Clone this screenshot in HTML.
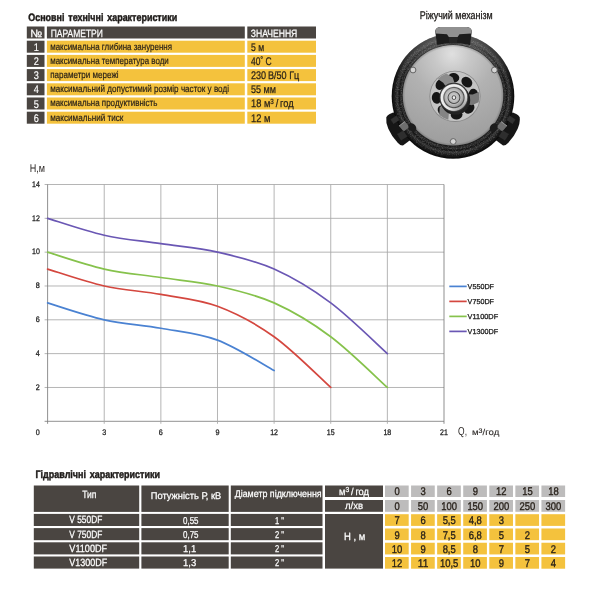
<!DOCTYPE html>
<html lang="uk"><head><meta charset="utf-8"><title>Характеристики</title>
<style>html,body{margin:0;padding:0;background:#fff}svg{display:block}text{font-family:"Liberation Sans",sans-serif;stroke-linejoin:round;text-rendering:geometricPrecision}</style>
</head><body>
<svg width="600" height="600" viewBox="0 0 600 600">
<rect width="600" height="600" fill="#fff"/>
<g id="photo">
<defs>
<radialGradient id="gBody" cx="0.5" cy="0.495" r="0.5">
<stop offset="0" stop-color="#111"/><stop offset="0.80" stop-color="#1a1a1a"/><stop offset="0.85" stop-color="#2e2e2e"/><stop offset="0.875" stop-color="#121212"/><stop offset="0.91" stop-color="#363636"/><stop offset="0.95" stop-color="#1c1c1c"/><stop offset="1" stop-color="#0b0b0b"/>
</radialGradient>
<linearGradient id="gBodyTop" x1="0" y1="33" x2="0" y2="78" gradientUnits="userSpaceOnUse">
<stop offset="0" stop-color="#999" stop-opacity="0.55"/><stop offset="0.45" stop-color="#888" stop-opacity="0.3"/><stop offset="1" stop-color="#888" stop-opacity="0"/>
</linearGradient>
<radialGradient id="gPlate" cx="452" cy="54" r="100" gradientUnits="userSpaceOnUse">
<stop offset="0" stop-color="#e0e0e0"/><stop offset="0.18" stop-color="#c8c8c8"/><stop offset="0.42" stop-color="#b2b2b2"/><stop offset="0.8" stop-color="#a2a2a2"/><stop offset="1" stop-color="#9a9a9a"/>
</radialGradient>
<radialGradient id="gPlateEdge" cx="453" cy="95.3" r="50.3" gradientUnits="userSpaceOnUse">
<stop offset="0" stop-color="#000" stop-opacity="0"/><stop offset="0.95" stop-color="#000" stop-opacity="0"/><stop offset="1" stop-color="#000" stop-opacity="0.2"/>
</radialGradient>
<radialGradient id="gHub" cx="454" cy="96.7" r="13" gradientUnits="userSpaceOnUse">
<stop offset="0" stop-color="#f6f6f6"/><stop offset="0.07" stop-color="#f6f6f6"/><stop offset="0.12" stop-color="#444"/><stop offset="0.2" stop-color="#c4c4c4"/><stop offset="0.36" stop-color="#b4b4b4"/><stop offset="0.43" stop-color="#3a3a3a"/><stop offset="0.5" stop-color="#bdbdbd"/><stop offset="0.66" stop-color="#a4a4a4"/><stop offset="0.74" stop-color="#3c3c3c"/><stop offset="0.82" stop-color="#e2e2e2"/><stop offset="0.94" stop-color="#efefef"/><stop offset="1" stop-color="#707070"/>
</radialGradient>
<linearGradient id="gHubSh" x1="446" y1="88" x2="463" y2="108" gradientUnits="userSpaceOnUse">
<stop offset="0" stop-color="#fff" stop-opacity="0.25"/><stop offset="0.5" stop-color="#fff" stop-opacity="0"/><stop offset="1" stop-color="#000" stop-opacity="0.45"/>
</linearGradient>
<filter id="noise" x="0" y="0" width="100%" height="100%"><feTurbulence type="fractalNoise" baseFrequency="0.85" numOctaves="2" seed="7" result="n"/><feColorMatrix in="n" type="matrix" values="0 0 0 0 1  0 0 0 0 1  0 0 0 0 1  1.6 0 0 0 -0.72"/><feComposite in2="SourceGraphic" operator="in"/></filter>
<filter id="soft" x="-5%" y="-5%" width="110%" height="110%"><feGaussianBlur stdDeviation="0.5"/></filter>
</defs>
<g filter="url(#soft)">
<path d="M402,113 L396.3,112 Q388,113.2 386.3,117.3 Q385.6,123 388.3,128.7 Q392,137 397.7,142.7 Q400.5,146 403.3,145.3 L410,140.3 L416,132 L410,118 Z" fill="#171717"/>
<path d="M504.0 113.0 L509.7 112.0 Q518.0 113.2 519.7 117.3 Q520.4 123.0 517.7 128.7 Q514.0 137.0 508.3 142.7 Q505.5 146.0 502.7 145.3 L496.0 140.3 L490.0 132.0 L496.0 118.0 Z" fill="#171717"/>
<ellipse cx="453" cy="96.2" rx="61.3" ry="62.5" fill="url(#gBody)"/>
<ellipse cx="453" cy="96.2" rx="61.3" ry="62.5" fill="url(#gBodyTop)"/>
<ellipse cx="453" cy="96.2" rx="58.5" ry="59.7" fill="#fff" filter="url(#noise)" opacity="0.3"/>
<path d="M437.2,45 L435.2,31.5 Q435.4,27.6 440,27 L467,27 Q471.6,27.6 471.8,31.5 L470,45 Q453.5,41 437.2,45 Z" fill="#1b1b1b"/>
<path d="M435.6,33.6 L435.4,31.5 Q435.5,27.6 440,27 L467,27 Q471.5,27.6 471.7,31.5 L471.4,33.6 L459.5,34.2 L457.6,37 L448.8,37 L447,34.2 Z" fill="#909090"/>
<path d="M448.6,37 L457.8,37 L457.2,43.6 L449.2,43.6 Z" fill="#262626"/>
<circle cx="453" cy="95.4" r="50.8" fill="#1e1e1e"/>
<circle cx="453" cy="95.3" r="50.3" fill="url(#gPlate)"/>
<circle cx="453" cy="95.3" r="50.3" fill="url(#gPlateEdge)"/>
<circle cx="413" cy="70" r="2.9" fill="#d4d4d4" stroke="#5a5a5a" stroke-width="0.9"/>
<circle cx="494.4" cy="70" r="2.9" fill="#d4d4d4" stroke="#5a5a5a" stroke-width="0.9"/>
<circle cx="453.2" cy="141.5" r="2.9" fill="#d4d4d4" stroke="#5a5a5a" stroke-width="0.9"/>
<path d="M399,126 L405,121.5 L409.6,127 L403.6,131.6 Z" fill="#6e6e6e"/>
<path d="M507.0 126.0 L501.0 121.5 L496.4 127.0 L502.4 131.6 Z" fill="#6e6e6e"/>
<path d="M390.5,119.5 L396.5,115.5 L399.5,120 L393.5,124 Z" fill="#303030"/>
<path d="M515.5 119.5 L509.5 115.5 L506.5 120.0 L512.5 124.0 Z" fill="#303030"/>
<path d="M397,134 L403.5,130.5 L407.5,136.5 L401,140.5 Z" fill="#2e2e2e"/>
<path d="M509.0 134.0 L502.5 130.5 L498.5 136.5 L505.0 140.5 Z" fill="#2e2e2e"/>
<path d="M399,126 L405,121.5" stroke="#a0a0a0" stroke-width="0.9" fill="none"/>
<path d="M507,126 L501,121.5" stroke="#a0a0a0" stroke-width="0.9" fill="none"/>
<ellipse cx="412.3" cy="127.5" rx="3.6" ry="4.6" transform="rotate(-35 412.3 127.5)" fill="#1b1b1b"/>
<ellipse cx="493.7" cy="127.5" rx="3.6" ry="4.6" transform="rotate(35 493.7 127.5)" fill="#1b1b1b"/>
<g transform="translate(455 96.3) scale(1.05) translate(-455 -95.5)">
<circle cx="455" cy="95.5" r="24.4" fill="#8a8a8a"/>
<circle cx="455" cy="95.5" r="23.6" fill="#c4c4c4"/>
<ellipse cx="453.5" cy="78.0" rx="5.6" ry="4.6" transform="rotate(-5 453.5 78.0)" fill="#161616"/>
<ellipse cx="466.3" cy="82.0" rx="5.6" ry="4.6" transform="rotate(40 466.3 82.0)" fill="#161616"/>
<ellipse cx="472.5" cy="94.0" rx="5.6" ry="4.6" transform="rotate(85 472.5 94.0)" fill="#161616"/>
<ellipse cx="468.5" cy="106.8" rx="5.6" ry="4.6" transform="rotate(130 468.5 106.8)" fill="#161616"/>
<ellipse cx="456.5" cy="113.0" rx="5.6" ry="4.6" transform="rotate(175 456.5 113.0)" fill="#161616"/>
<ellipse cx="443.7" cy="109.0" rx="5.6" ry="4.6" transform="rotate(220 443.7 109.0)" fill="#161616"/>
<ellipse cx="437.5" cy="97.0" rx="5.6" ry="4.6" transform="rotate(265 437.5 97.0)" fill="#161616"/>
<ellipse cx="441.5" cy="84.2" rx="5.6" ry="4.6" transform="rotate(310 441.5 84.2)" fill="#161616"/>
<path d="M455.2,84.5 L452.8,77.6 L446.7,73.8 A23.2,23.2 0 0 0 438.6,79.1 L443.8,82.7 L447.2,87.7 Z" fill="#8c8c8c"/>
<path d="M463.9,102.0 L470.9,104.0 L477.5,101.1 A23.2,23.2 0 0 0 477.8,91.5 L471.9,93.7 L465.8,93.6 Z" fill="#787878"/>
<path d="M445.3,100.7 L440.4,106.1 L440.1,113.3 A23.2,23.2 0 0 0 448.6,117.8 L449.2,111.5 L452.0,106.1 Z" fill="#848484"/>
<ellipse cx="455.3" cy="99.0" rx="14.2" ry="14.2" fill="#202020"/>
<circle cx="454" cy="96.7" r="14.0" fill="#2c2c2c"/>
<circle cx="454" cy="96.7" r="13.1" fill="url(#gHub)"/>
<circle cx="454" cy="96.7" r="13.1" fill="url(#gHubSh)"/>
</g>
</g>
</g>
<text x="28.30" y="21.20" font-size="10.8" fill="#1d1a18" font-weight="bold" textLength="148.90" lengthAdjust="spacingAndGlyphs" word-spacing="1.6" stroke="#1d1a18" stroke-width="0.45">Основні технічні характеристики</text>
<rect x="26.80" y="26.50" width="17.70" height="12.00" fill="#4a4541"/>
<rect x="46.90" y="26.50" width="197.90" height="12.00" fill="#4a4541"/>
<rect x="247.30" y="26.50" width="68.70" height="12.00" fill="#4a4541"/>
<text x="30.30" y="37.30" font-size="10.6" fill="#fff" textLength="12.00" lengthAdjust="spacingAndGlyphs" stroke="#fff" stroke-width="0.25">№</text>
<text x="50.70" y="37.30" font-size="10.6" fill="#fff" textLength="52.20" lengthAdjust="spacingAndGlyphs" stroke="#fff" stroke-width="0.25">ПАРАМЕТРИ</text>
<text x="250.80" y="37.30" font-size="10.6" fill="#fff" textLength="46.50" lengthAdjust="spacingAndGlyphs" stroke="#fff" stroke-width="0.25">ЗНАЧЕННЯ</text>
<rect x="26.80" y="40.70" width="17.70" height="12.00" fill="#4a4541"/>
<rect x="46.90" y="40.70" width="197.90" height="12.00" fill="#f4c23d"/>
<rect x="247.30" y="40.70" width="68.70" height="12.00" fill="#f4c23d"/>
<text x="36.20" y="50.70" font-size="11.0" fill="#fff" text-anchor="middle" textLength="5.10" lengthAdjust="spacingAndGlyphs" stroke="#fff" stroke-width="0.15">1</text>
<text x="50.20" y="49.60" font-size="9.8" fill="#261f18" textLength="121.80" lengthAdjust="spacingAndGlyphs" stroke="#261f18" stroke-width="0.2">максимальна глибина занурення</text>
<text x="251.00" y="50.50" font-size="11.0" fill="#261f18" textLength="13.20" lengthAdjust="spacingAndGlyphs" stroke="#261f18" stroke-width="0.25">5 м</text>
<rect x="26.80" y="54.90" width="17.70" height="12.00" fill="#4a4541"/>
<rect x="46.90" y="54.90" width="197.90" height="12.00" fill="#f4c23d"/>
<rect x="247.30" y="54.90" width="68.70" height="12.00" fill="#f4c23d"/>
<text x="36.20" y="64.90" font-size="11.0" fill="#fff" text-anchor="middle" textLength="5.10" lengthAdjust="spacingAndGlyphs" stroke="#fff" stroke-width="0.15">2</text>
<text x="50.20" y="63.80" font-size="9.8" fill="#261f18" textLength="118.60" lengthAdjust="spacingAndGlyphs" stroke="#261f18" stroke-width="0.2">максимальна температура води</text>
<text x="251.00" y="64.70" font-size="11.0" fill="#261f18" textLength="20.70" lengthAdjust="spacingAndGlyphs" stroke="#261f18" stroke-width="0.25">40˚ C</text>
<rect x="26.80" y="69.10" width="17.70" height="12.00" fill="#4a4541"/>
<rect x="46.90" y="69.10" width="197.90" height="12.00" fill="#f4c23d"/>
<rect x="247.30" y="69.10" width="68.70" height="12.00" fill="#f4c23d"/>
<text x="36.20" y="79.10" font-size="11.0" fill="#fff" text-anchor="middle" textLength="5.10" lengthAdjust="spacingAndGlyphs" stroke="#fff" stroke-width="0.15">3</text>
<text x="50.20" y="78.00" font-size="9.8" fill="#261f18" textLength="68.40" lengthAdjust="spacingAndGlyphs" stroke="#261f18" stroke-width="0.2">параметри мережі</text>
<text x="251.00" y="78.90" font-size="11.0" fill="#261f18" textLength="48.30" lengthAdjust="spacingAndGlyphs" stroke="#261f18" stroke-width="0.25">230 В/50 Гц</text>
<rect x="26.80" y="83.30" width="17.70" height="12.00" fill="#4a4541"/>
<rect x="46.90" y="83.30" width="197.90" height="12.00" fill="#f4c23d"/>
<rect x="247.30" y="83.30" width="68.70" height="12.00" fill="#f4c23d"/>
<text x="36.20" y="93.30" font-size="11.0" fill="#fff" text-anchor="middle" textLength="5.10" lengthAdjust="spacingAndGlyphs" stroke="#fff" stroke-width="0.15">4</text>
<text x="50.20" y="92.20" font-size="9.8" fill="#261f18" textLength="178.80" lengthAdjust="spacingAndGlyphs" stroke="#261f18" stroke-width="0.2">максимальний допустимий розмір часток у воді</text>
<text x="251.00" y="93.10" font-size="11.0" fill="#261f18" textLength="25.00" lengthAdjust="spacingAndGlyphs" stroke="#261f18" stroke-width="0.25">55 мм</text>
<rect x="26.80" y="97.50" width="17.70" height="12.00" fill="#4a4541"/>
<rect x="46.90" y="97.50" width="197.90" height="12.00" fill="#f4c23d"/>
<rect x="247.30" y="97.50" width="68.70" height="12.00" fill="#f4c23d"/>
<text x="36.20" y="107.50" font-size="11.0" fill="#fff" text-anchor="middle" textLength="5.10" lengthAdjust="spacingAndGlyphs" stroke="#fff" stroke-width="0.15">5</text>
<text x="50.20" y="106.40" font-size="9.8" fill="#261f18" textLength="107.20" lengthAdjust="spacingAndGlyphs" stroke="#261f18" stroke-width="0.2">максимальна продуктивність</text>
<text x="251.00" y="107.30" font-size="11.0" fill="#261f18" textLength="42.70" lengthAdjust="spacingAndGlyphs" stroke="#261f18" stroke-width="0.25">18 м<tspan font-size="7.4" dy="-3.2">3</tspan><tspan dy="3.2"> / год</tspan></text>
<rect x="26.80" y="111.70" width="17.70" height="12.00" fill="#4a4541"/>
<rect x="46.90" y="111.70" width="197.90" height="12.00" fill="#f4c23d"/>
<rect x="247.30" y="111.70" width="68.70" height="12.00" fill="#f4c23d"/>
<text x="36.20" y="121.70" font-size="11.0" fill="#fff" text-anchor="middle" textLength="5.10" lengthAdjust="spacingAndGlyphs" stroke="#fff" stroke-width="0.15">6</text>
<text x="50.20" y="120.60" font-size="9.8" fill="#261f18" textLength="73.20" lengthAdjust="spacingAndGlyphs" stroke="#261f18" stroke-width="0.2">максимальний тиск</text>
<text x="251.00" y="121.50" font-size="11.0" fill="#261f18" textLength="19.40" lengthAdjust="spacingAndGlyphs" stroke="#261f18" stroke-width="0.25">12 м</text>
<text x="419.80" y="19.30" font-size="11.2" fill="#1d1a18" textLength="72.80" lengthAdjust="spacingAndGlyphs" stroke="#1d1a18" stroke-width="0.3">Ріжучий механізм</text>
<line x1="44.60" y1="421.30" x2="444.00" y2="421.30" stroke="#7c7c7c" stroke-width="0.85"/>
<line x1="44.60" y1="387.47" x2="444.00" y2="387.47" stroke="#a8a8a8" stroke-width="0.85"/>
<line x1="44.60" y1="353.64" x2="444.00" y2="353.64" stroke="#a8a8a8" stroke-width="0.85"/>
<line x1="44.60" y1="319.81" x2="444.00" y2="319.81" stroke="#a8a8a8" stroke-width="0.85"/>
<line x1="44.60" y1="285.99" x2="444.00" y2="285.99" stroke="#a8a8a8" stroke-width="0.85"/>
<line x1="44.60" y1="252.16" x2="444.00" y2="252.16" stroke="#a8a8a8" stroke-width="0.85"/>
<line x1="44.60" y1="218.33" x2="444.00" y2="218.33" stroke="#a8a8a8" stroke-width="0.85"/>
<line x1="44.60" y1="184.50" x2="444.00" y2="184.50" stroke="#a8a8a8" stroke-width="0.85"/>
<line x1="47.60" y1="184.50" x2="47.60" y2="423.80" stroke="#7c7c7c" stroke-width="0.85"/>
<line x1="104.23" y1="184.50" x2="104.23" y2="423.80" stroke="#a8a8a8" stroke-width="0.85"/>
<line x1="160.86" y1="184.50" x2="160.86" y2="423.80" stroke="#a8a8a8" stroke-width="0.85"/>
<line x1="217.49" y1="184.50" x2="217.49" y2="423.80" stroke="#a8a8a8" stroke-width="0.85"/>
<line x1="274.11" y1="184.50" x2="274.11" y2="423.80" stroke="#a8a8a8" stroke-width="0.85"/>
<line x1="330.74" y1="184.50" x2="330.74" y2="423.80" stroke="#a8a8a8" stroke-width="0.85"/>
<line x1="387.37" y1="184.50" x2="387.37" y2="423.80" stroke="#a8a8a8" stroke-width="0.85"/>
<line x1="444.00" y1="184.50" x2="444.00" y2="423.80" stroke="#7c7c7c" stroke-width="0.85"/>
<text x="39.80" y="389.77" font-size="8.0" fill="#222" text-anchor="end" textLength="4.00" lengthAdjust="spacingAndGlyphs" stroke="#222" stroke-width="0.28">2</text>
<text x="39.80" y="355.94" font-size="8.0" fill="#222" text-anchor="end" textLength="4.00" lengthAdjust="spacingAndGlyphs" stroke="#222" stroke-width="0.28">4</text>
<text x="39.80" y="322.11" font-size="8.0" fill="#222" text-anchor="end" textLength="4.00" lengthAdjust="spacingAndGlyphs" stroke="#222" stroke-width="0.28">6</text>
<text x="39.80" y="288.29" font-size="8.0" fill="#222" text-anchor="end" textLength="4.00" lengthAdjust="spacingAndGlyphs" stroke="#222" stroke-width="0.28">8</text>
<text x="39.80" y="254.46" font-size="8.0" fill="#222" text-anchor="end" textLength="7.80" lengthAdjust="spacingAndGlyphs" stroke="#222" stroke-width="0.28">10</text>
<text x="39.80" y="220.63" font-size="8.0" fill="#222" text-anchor="end" textLength="7.80" lengthAdjust="spacingAndGlyphs" stroke="#222" stroke-width="0.28">12</text>
<text x="39.80" y="186.80" font-size="8.0" fill="#222" text-anchor="end" textLength="7.80" lengthAdjust="spacingAndGlyphs" stroke="#222" stroke-width="0.28">14</text>
<text x="37.80" y="435.10" font-size="8.0" fill="#222" text-anchor="middle" textLength="4.00" lengthAdjust="spacingAndGlyphs" stroke="#222" stroke-width="0.28">0</text>
<text x="104.23" y="435.10" font-size="8.0" fill="#222" text-anchor="middle" textLength="4.00" lengthAdjust="spacingAndGlyphs" stroke="#222" stroke-width="0.28">3</text>
<text x="160.86" y="435.10" font-size="8.0" fill="#222" text-anchor="middle" textLength="4.00" lengthAdjust="spacingAndGlyphs" stroke="#222" stroke-width="0.28">6</text>
<text x="217.49" y="435.10" font-size="8.0" fill="#222" text-anchor="middle" textLength="4.00" lengthAdjust="spacingAndGlyphs" stroke="#222" stroke-width="0.28">9</text>
<text x="274.11" y="435.10" font-size="8.0" fill="#222" text-anchor="middle" textLength="7.80" lengthAdjust="spacingAndGlyphs" stroke="#222" stroke-width="0.28">12</text>
<text x="330.74" y="435.10" font-size="8.0" fill="#222" text-anchor="middle" textLength="7.80" lengthAdjust="spacingAndGlyphs" stroke="#222" stroke-width="0.28">15</text>
<text x="387.37" y="435.10" font-size="8.0" fill="#222" text-anchor="middle" textLength="7.80" lengthAdjust="spacingAndGlyphs" stroke="#222" stroke-width="0.28">18</text>
<text x="444.00" y="435.10" font-size="8.0" fill="#222" text-anchor="middle" textLength="7.80" lengthAdjust="spacingAndGlyphs" stroke="#222" stroke-width="0.28">21</text>
<text x="29.70" y="171.50" font-size="11.2" fill="#2a2624" textLength="15.30" lengthAdjust="spacingAndGlyphs">Н,м</text>
<text x="458.10" y="435.20" font-size="11.6" fill="#2a2624" textLength="8.90" lengthAdjust="spacingAndGlyphs">Q,</text>
<text x="472.00" y="435.30" font-size="8.6" fill="#2a2624" textLength="27.30" lengthAdjust="spacingAndGlyphs" stroke="#2a2624" stroke-width="0.1">м<tspan font-size="6.4" dy="-2.6">3</tspan><tspan dy="2.6">/год</tspan></text>
<path d="M47.60,302.90 C57.04,305.72 85.35,315.59 104.23,319.81 C123.10,324.04 141.98,324.89 160.86,328.27 C179.73,331.65 198.61,333.06 217.49,340.11 C236.36,347.16 264.68,365.48 274.11,370.56" fill="none" stroke="#4a82d2" stroke-width="1.7" stroke-linecap="round"/>
<line x1="449.3" y1="286.40" x2="466.7" y2="286.40" stroke="#4a82d2" stroke-width="1.7"/>
<text x="467.60" y="288.90" font-size="7.2" fill="#222" textLength="26.40" lengthAdjust="spacingAndGlyphs" stroke="#222" stroke-width="0.28">V550DF</text>
<path d="M47.60,269.07 C57.04,271.89 85.35,281.76 104.23,285.99 C123.10,290.21 141.98,291.06 160.86,294.44 C179.73,297.83 198.61,299.24 217.49,306.28 C236.36,313.33 255.24,323.20 274.11,336.73 C292.99,350.26 321.30,379.01 330.74,387.47" fill="none" stroke="#d4473f" stroke-width="1.7" stroke-linecap="round"/>
<line x1="449.3" y1="301.40" x2="466.7" y2="301.40" stroke="#d4473f" stroke-width="1.7"/>
<text x="467.60" y="303.90" font-size="7.2" fill="#222" textLength="26.40" lengthAdjust="spacingAndGlyphs" stroke="#222" stroke-width="0.28">V750DF</text>
<path d="M47.60,252.16 C57.04,254.98 85.35,264.84 104.23,269.07 C123.10,273.30 141.98,274.71 160.86,277.53 C179.73,280.35 198.61,281.76 217.49,285.99 C236.36,290.21 255.24,294.44 274.11,302.90 C292.99,311.36 311.87,322.63 330.74,336.73 C349.62,350.82 377.93,379.01 387.37,387.47" fill="none" stroke="#86c24c" stroke-width="1.7" stroke-linecap="round"/>
<line x1="449.3" y1="316.40" x2="466.7" y2="316.40" stroke="#86c24c" stroke-width="1.7"/>
<text x="467.60" y="318.90" font-size="7.2" fill="#222" textLength="30.60" lengthAdjust="spacingAndGlyphs" stroke="#222" stroke-width="0.28">V1100DF</text>
<path d="M47.60,218.33 C57.04,221.15 85.35,231.01 104.23,235.24 C123.10,239.47 141.98,240.88 160.86,243.70 C179.73,246.52 198.61,247.93 217.49,252.16 C236.36,256.39 255.24,260.61 274.11,269.07 C292.99,277.53 311.87,288.80 330.74,302.90 C349.62,317.00 377.93,345.19 387.37,353.64" fill="none" stroke="#6a57b4" stroke-width="1.7" stroke-linecap="round"/>
<line x1="449.3" y1="331.40" x2="466.7" y2="331.40" stroke="#6a57b4" stroke-width="1.7"/>
<text x="467.60" y="333.90" font-size="7.2" fill="#222" textLength="30.60" lengthAdjust="spacingAndGlyphs" stroke="#222" stroke-width="0.28">V1300DF</text>
<text x="35.50" y="478.00" font-size="10.8" fill="#1d1a18" font-weight="bold" textLength="124.50" lengthAdjust="spacingAndGlyphs" word-spacing="1.6" stroke="#1d1a18" stroke-width="0.45">Гідравлічні характеристики</text>
<rect x="33.80" y="485.50" width="105.40" height="26.40" fill="#4a4541"/>
<rect x="141.40" y="485.50" width="87.30" height="26.40" fill="#4a4541"/>
<rect x="230.80" y="485.50" width="91.70" height="26.40" fill="#4a4541"/>
<rect x="325.00" y="485.50" width="58.00" height="11.50" fill="#4a4541"/>
<rect x="325.00" y="500.00" width="58.00" height="11.80" fill="#4a4541"/>
<rect x="325.00" y="514.00" width="58.00" height="54.60" fill="#4a4541"/>
<text x="82.20" y="497.80" font-size="10.5" fill="#fff" textLength="14.20" lengthAdjust="spacingAndGlyphs" stroke="#fff" stroke-width="0.25">Тип</text>
<text x="150.80" y="499.30" font-size="9.8" fill="#fff" textLength="70.50" lengthAdjust="spacingAndGlyphs" stroke="#fff" stroke-width="0.25">Потужність Р, кВ</text>
<text x="234.70" y="497.40" font-size="9.8" fill="#fff" textLength="87.00" lengthAdjust="spacingAndGlyphs" stroke="#fff" stroke-width="0.25">Діаметр підключення</text>
<text x="354.00" y="494.90" font-size="10" fill="#fff" text-anchor="middle" textLength="30.00" lengthAdjust="spacingAndGlyphs" stroke="#fff" stroke-width="0.25">м<tspan font-size="7.2" dy="-3.2">3</tspan><tspan dy="3.2"> / год</tspan></text>
<text x="354.00" y="509.00" font-size="10" fill="#fff" text-anchor="middle" textLength="18.00" lengthAdjust="spacingAndGlyphs" stroke="#fff" stroke-width="0.25">л/хв</text>
<text x="354.70" y="540.30" font-size="10.5" fill="#fff" text-anchor="middle" textLength="21.30" lengthAdjust="spacingAndGlyphs" stroke="#fff" stroke-width="0.25">Н , м</text>
<rect x="33.80" y="513.90" width="105.40" height="12.10" fill="#4a4541"/>
<rect x="141.40" y="513.90" width="87.30" height="12.10" fill="#4a4541"/>
<rect x="230.80" y="513.90" width="91.70" height="12.10" fill="#4a4541"/>
<text x="69.30" y="523.40" font-size="10.5" fill="#fff" textLength="33.00" lengthAdjust="spacingAndGlyphs" stroke="#fff" stroke-width="0.25">V 550DF</text>
<text x="190.80" y="523.60" font-size="10" fill="#fff" text-anchor="middle" textLength="15.50" lengthAdjust="spacingAndGlyphs" stroke="#fff" stroke-width="0.25">0,55</text>
<text x="279.50" y="523.60" font-size="10" fill="#fff" text-anchor="middle" textLength="9.00" lengthAdjust="spacingAndGlyphs" stroke="#fff" stroke-width="0.25">1 "</text>
<rect x="33.80" y="528.10" width="105.40" height="12.10" fill="#4a4541"/>
<rect x="141.40" y="528.10" width="87.30" height="12.10" fill="#4a4541"/>
<rect x="230.80" y="528.10" width="91.70" height="12.10" fill="#4a4541"/>
<text x="69.30" y="537.60" font-size="10.5" fill="#fff" textLength="33.00" lengthAdjust="spacingAndGlyphs" stroke="#fff" stroke-width="0.25">V 750DF</text>
<text x="190.80" y="537.80" font-size="10" fill="#fff" text-anchor="middle" textLength="15.50" lengthAdjust="spacingAndGlyphs" stroke="#fff" stroke-width="0.25">0,75</text>
<text x="279.50" y="537.80" font-size="10" fill="#fff" text-anchor="middle" textLength="9.00" lengthAdjust="spacingAndGlyphs" stroke="#fff" stroke-width="0.25">2 "</text>
<rect x="33.80" y="542.30" width="105.40" height="12.10" fill="#4a4541"/>
<rect x="141.40" y="542.30" width="87.30" height="12.10" fill="#4a4541"/>
<rect x="230.80" y="542.30" width="91.70" height="12.10" fill="#4a4541"/>
<text x="69.30" y="551.80" font-size="10.5" fill="#fff" textLength="37.90" lengthAdjust="spacingAndGlyphs" stroke="#fff" stroke-width="0.25">V1100DF</text>
<text x="189.60" y="552.00" font-size="10" fill="#fff" text-anchor="middle" textLength="13.20" lengthAdjust="spacingAndGlyphs" stroke="#fff" stroke-width="0.25">1,1</text>
<text x="279.50" y="552.00" font-size="10" fill="#fff" text-anchor="middle" textLength="9.00" lengthAdjust="spacingAndGlyphs" stroke="#fff" stroke-width="0.25">2 "</text>
<rect x="33.80" y="556.50" width="105.40" height="12.10" fill="#4a4541"/>
<rect x="141.40" y="556.50" width="87.30" height="12.10" fill="#4a4541"/>
<rect x="230.80" y="556.50" width="91.70" height="12.10" fill="#4a4541"/>
<text x="69.30" y="566.00" font-size="10.5" fill="#fff" textLength="37.90" lengthAdjust="spacingAndGlyphs" stroke="#fff" stroke-width="0.25">V1300DF</text>
<text x="189.60" y="566.20" font-size="10" fill="#fff" text-anchor="middle" textLength="13.20" lengthAdjust="spacingAndGlyphs" stroke="#fff" stroke-width="0.25">1,3</text>
<text x="279.50" y="566.20" font-size="10" fill="#fff" text-anchor="middle" textLength="9.00" lengthAdjust="spacingAndGlyphs" stroke="#fff" stroke-width="0.25">2 "</text>
<rect x="385.00" y="485.50" width="23.70" height="11.50" fill="#bdbcbc"/>
<rect x="385.00" y="500.00" width="23.70" height="11.80" fill="#bdbcbc"/>
<text x="397.05" y="495.20" font-size="11.2" fill="#261f18" text-anchor="middle" textLength="5.25" lengthAdjust="spacingAndGlyphs" stroke="#261f18" stroke-width="0.35">0</text>
<text x="397.05" y="509.80" font-size="11.2" fill="#261f18" text-anchor="middle" textLength="5.25" lengthAdjust="spacingAndGlyphs" stroke="#261f18" stroke-width="0.35">0</text>
<rect x="385.00" y="514.20" width="23.70" height="11.70" fill="#f4c23d"/>
<text x="397.05" y="524.40" font-size="11.2" fill="#261f18" text-anchor="middle" textLength="5.25" lengthAdjust="spacingAndGlyphs" stroke="#261f18" stroke-width="0.35">7</text>
<rect x="385.00" y="528.47" width="23.70" height="11.70" fill="#f4c23d"/>
<text x="397.05" y="538.67" font-size="11.2" fill="#261f18" text-anchor="middle" textLength="5.25" lengthAdjust="spacingAndGlyphs" stroke="#261f18" stroke-width="0.35">9</text>
<rect x="385.00" y="542.74" width="23.70" height="11.70" fill="#f4c23d"/>
<text x="397.05" y="552.94" font-size="11.2" fill="#261f18" text-anchor="middle" textLength="10.50" lengthAdjust="spacingAndGlyphs" stroke="#261f18" stroke-width="0.35">10</text>
<rect x="385.00" y="557.01" width="23.70" height="11.70" fill="#f4c23d"/>
<text x="397.05" y="567.21" font-size="11.2" fill="#261f18" text-anchor="middle" textLength="10.50" lengthAdjust="spacingAndGlyphs" stroke="#261f18" stroke-width="0.35">12</text>
<rect x="411.07" y="485.50" width="23.70" height="11.50" fill="#bdbcbc"/>
<rect x="411.07" y="500.00" width="23.70" height="11.80" fill="#bdbcbc"/>
<text x="423.12" y="495.20" font-size="11.2" fill="#261f18" text-anchor="middle" textLength="5.25" lengthAdjust="spacingAndGlyphs" stroke="#261f18" stroke-width="0.35">3</text>
<text x="423.12" y="509.80" font-size="11.2" fill="#261f18" text-anchor="middle" textLength="10.50" lengthAdjust="spacingAndGlyphs" stroke="#261f18" stroke-width="0.35">50</text>
<rect x="411.07" y="514.20" width="23.70" height="11.70" fill="#f4c23d"/>
<text x="423.12" y="524.40" font-size="11.2" fill="#261f18" text-anchor="middle" textLength="5.25" lengthAdjust="spacingAndGlyphs" stroke="#261f18" stroke-width="0.35">6</text>
<rect x="411.07" y="528.47" width="23.70" height="11.70" fill="#f4c23d"/>
<text x="423.12" y="538.67" font-size="11.2" fill="#261f18" text-anchor="middle" textLength="5.25" lengthAdjust="spacingAndGlyphs" stroke="#261f18" stroke-width="0.35">8</text>
<rect x="411.07" y="542.74" width="23.70" height="11.70" fill="#f4c23d"/>
<text x="423.12" y="552.94" font-size="11.2" fill="#261f18" text-anchor="middle" textLength="5.25" lengthAdjust="spacingAndGlyphs" stroke="#261f18" stroke-width="0.35">9</text>
<rect x="411.07" y="557.01" width="23.70" height="11.70" fill="#f4c23d"/>
<text x="423.12" y="567.21" font-size="11.2" fill="#261f18" text-anchor="middle" textLength="10.50" lengthAdjust="spacingAndGlyphs" stroke="#261f18" stroke-width="0.35">11</text>
<rect x="437.14" y="485.50" width="23.70" height="11.50" fill="#bdbcbc"/>
<rect x="437.14" y="500.00" width="23.70" height="11.80" fill="#bdbcbc"/>
<text x="449.19" y="495.20" font-size="11.2" fill="#261f18" text-anchor="middle" textLength="5.25" lengthAdjust="spacingAndGlyphs" stroke="#261f18" stroke-width="0.35">6</text>
<text x="449.19" y="509.80" font-size="11.2" fill="#261f18" text-anchor="middle" textLength="15.75" lengthAdjust="spacingAndGlyphs" stroke="#261f18" stroke-width="0.35">100</text>
<rect x="437.14" y="514.20" width="23.70" height="11.70" fill="#f4c23d"/>
<text x="449.19" y="524.40" font-size="11.2" fill="#261f18" text-anchor="middle" textLength="13.10" lengthAdjust="spacingAndGlyphs" stroke="#261f18" stroke-width="0.35">5,5</text>
<rect x="437.14" y="528.47" width="23.70" height="11.70" fill="#f4c23d"/>
<text x="449.19" y="538.67" font-size="11.2" fill="#261f18" text-anchor="middle" textLength="13.10" lengthAdjust="spacingAndGlyphs" stroke="#261f18" stroke-width="0.35">7,5</text>
<rect x="437.14" y="542.74" width="23.70" height="11.70" fill="#f4c23d"/>
<text x="449.19" y="552.94" font-size="11.2" fill="#261f18" text-anchor="middle" textLength="13.10" lengthAdjust="spacingAndGlyphs" stroke="#261f18" stroke-width="0.35">8,5</text>
<rect x="437.14" y="557.01" width="23.70" height="11.70" fill="#f4c23d"/>
<text x="449.19" y="567.21" font-size="11.2" fill="#261f18" text-anchor="middle" textLength="18.35" lengthAdjust="spacingAndGlyphs" stroke="#261f18" stroke-width="0.35">10,5</text>
<rect x="463.21" y="485.50" width="23.70" height="11.50" fill="#bdbcbc"/>
<rect x="463.21" y="500.00" width="23.70" height="11.80" fill="#bdbcbc"/>
<text x="475.26" y="495.20" font-size="11.2" fill="#261f18" text-anchor="middle" textLength="5.25" lengthAdjust="spacingAndGlyphs" stroke="#261f18" stroke-width="0.35">9</text>
<text x="475.26" y="509.80" font-size="11.2" fill="#261f18" text-anchor="middle" textLength="15.75" lengthAdjust="spacingAndGlyphs" stroke="#261f18" stroke-width="0.35">150</text>
<rect x="463.21" y="514.20" width="23.70" height="11.70" fill="#f4c23d"/>
<text x="475.26" y="524.40" font-size="11.2" fill="#261f18" text-anchor="middle" textLength="13.10" lengthAdjust="spacingAndGlyphs" stroke="#261f18" stroke-width="0.35">4,8</text>
<rect x="463.21" y="528.47" width="23.70" height="11.70" fill="#f4c23d"/>
<text x="475.26" y="538.67" font-size="11.2" fill="#261f18" text-anchor="middle" textLength="13.10" lengthAdjust="spacingAndGlyphs" stroke="#261f18" stroke-width="0.35">6,8</text>
<rect x="463.21" y="542.74" width="23.70" height="11.70" fill="#f4c23d"/>
<text x="475.26" y="552.94" font-size="11.2" fill="#261f18" text-anchor="middle" textLength="5.25" lengthAdjust="spacingAndGlyphs" stroke="#261f18" stroke-width="0.35">8</text>
<rect x="463.21" y="557.01" width="23.70" height="11.70" fill="#f4c23d"/>
<text x="475.26" y="567.21" font-size="11.2" fill="#261f18" text-anchor="middle" textLength="10.50" lengthAdjust="spacingAndGlyphs" stroke="#261f18" stroke-width="0.35">10</text>
<rect x="489.28" y="485.50" width="23.70" height="11.50" fill="#bdbcbc"/>
<rect x="489.28" y="500.00" width="23.70" height="11.80" fill="#bdbcbc"/>
<text x="501.33" y="495.20" font-size="11.2" fill="#261f18" text-anchor="middle" textLength="10.50" lengthAdjust="spacingAndGlyphs" stroke="#261f18" stroke-width="0.35">12</text>
<text x="501.33" y="509.80" font-size="11.2" fill="#261f18" text-anchor="middle" textLength="15.75" lengthAdjust="spacingAndGlyphs" stroke="#261f18" stroke-width="0.35">200</text>
<rect x="489.28" y="514.20" width="23.70" height="11.70" fill="#f4c23d"/>
<text x="501.33" y="524.40" font-size="11.2" fill="#261f18" text-anchor="middle" textLength="5.25" lengthAdjust="spacingAndGlyphs" stroke="#261f18" stroke-width="0.35">3</text>
<rect x="489.28" y="528.47" width="23.70" height="11.70" fill="#f4c23d"/>
<text x="501.33" y="538.67" font-size="11.2" fill="#261f18" text-anchor="middle" textLength="5.25" lengthAdjust="spacingAndGlyphs" stroke="#261f18" stroke-width="0.35">5</text>
<rect x="489.28" y="542.74" width="23.70" height="11.70" fill="#f4c23d"/>
<text x="501.33" y="552.94" font-size="11.2" fill="#261f18" text-anchor="middle" textLength="5.25" lengthAdjust="spacingAndGlyphs" stroke="#261f18" stroke-width="0.35">7</text>
<rect x="489.28" y="557.01" width="23.70" height="11.70" fill="#f4c23d"/>
<text x="501.33" y="567.21" font-size="11.2" fill="#261f18" text-anchor="middle" textLength="5.25" lengthAdjust="spacingAndGlyphs" stroke="#261f18" stroke-width="0.35">9</text>
<rect x="515.35" y="485.50" width="23.70" height="11.50" fill="#bdbcbc"/>
<rect x="515.35" y="500.00" width="23.70" height="11.80" fill="#bdbcbc"/>
<text x="527.40" y="495.20" font-size="11.2" fill="#261f18" text-anchor="middle" textLength="10.50" lengthAdjust="spacingAndGlyphs" stroke="#261f18" stroke-width="0.35">15</text>
<text x="527.40" y="509.80" font-size="11.2" fill="#261f18" text-anchor="middle" textLength="15.75" lengthAdjust="spacingAndGlyphs" stroke="#261f18" stroke-width="0.35">250</text>
<rect x="515.35" y="514.20" width="23.70" height="11.70" fill="#f4c23d"/>
<rect x="515.35" y="528.47" width="23.70" height="11.70" fill="#f4c23d"/>
<text x="527.40" y="538.67" font-size="11.2" fill="#261f18" text-anchor="middle" textLength="5.25" lengthAdjust="spacingAndGlyphs" stroke="#261f18" stroke-width="0.35">2</text>
<rect x="515.35" y="542.74" width="23.70" height="11.70" fill="#f4c23d"/>
<text x="527.40" y="552.94" font-size="11.2" fill="#261f18" text-anchor="middle" textLength="5.25" lengthAdjust="spacingAndGlyphs" stroke="#261f18" stroke-width="0.35">5</text>
<rect x="515.35" y="557.01" width="23.70" height="11.70" fill="#f4c23d"/>
<text x="527.40" y="567.21" font-size="11.2" fill="#261f18" text-anchor="middle" textLength="5.25" lengthAdjust="spacingAndGlyphs" stroke="#261f18" stroke-width="0.35">7</text>
<rect x="541.42" y="485.50" width="23.70" height="11.50" fill="#bdbcbc"/>
<rect x="541.42" y="500.00" width="23.70" height="11.80" fill="#bdbcbc"/>
<text x="553.47" y="495.20" font-size="11.2" fill="#261f18" text-anchor="middle" textLength="10.50" lengthAdjust="spacingAndGlyphs" stroke="#261f18" stroke-width="0.35">18</text>
<text x="553.47" y="509.80" font-size="11.2" fill="#261f18" text-anchor="middle" textLength="15.75" lengthAdjust="spacingAndGlyphs" stroke="#261f18" stroke-width="0.35">300</text>
<rect x="541.42" y="514.20" width="23.70" height="11.70" fill="#f4c23d"/>
<rect x="541.42" y="528.47" width="23.70" height="11.70" fill="#f4c23d"/>
<rect x="541.42" y="542.74" width="23.70" height="11.70" fill="#f4c23d"/>
<text x="553.47" y="552.94" font-size="11.2" fill="#261f18" text-anchor="middle" textLength="5.25" lengthAdjust="spacingAndGlyphs" stroke="#261f18" stroke-width="0.35">2</text>
<rect x="541.42" y="557.01" width="23.70" height="11.70" fill="#f4c23d"/>
<text x="553.47" y="567.21" font-size="11.2" fill="#261f18" text-anchor="middle" textLength="5.25" lengthAdjust="spacingAndGlyphs" stroke="#261f18" stroke-width="0.35">4</text>
</svg>
</body></html>
